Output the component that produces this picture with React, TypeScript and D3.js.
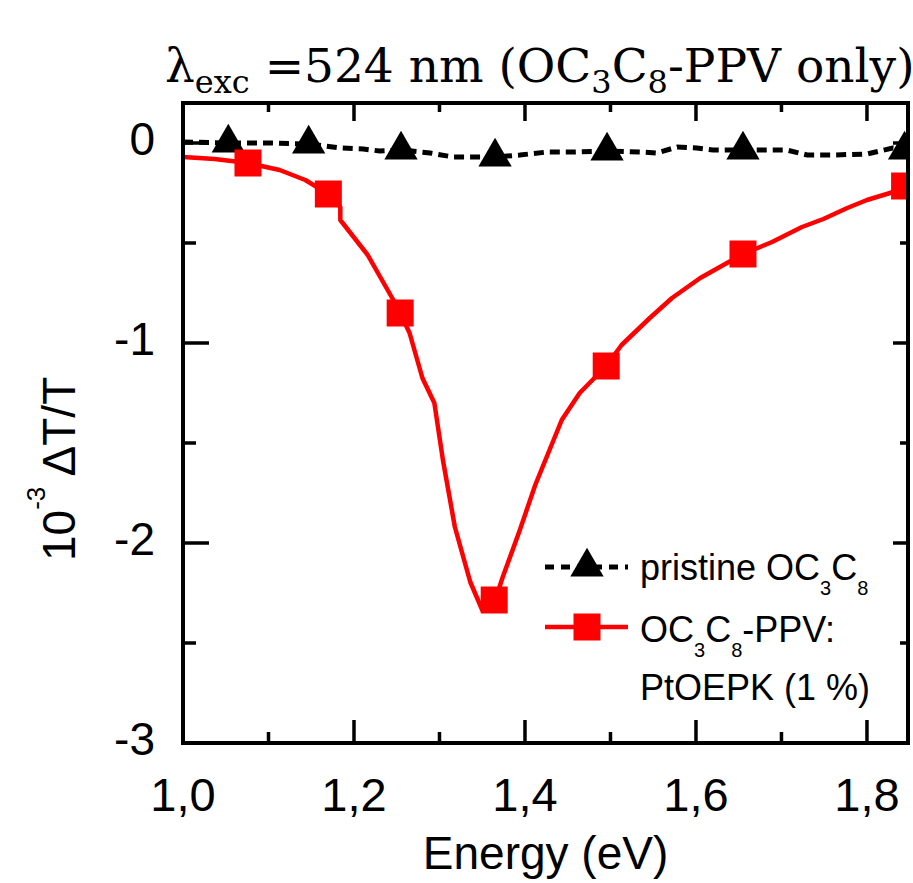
import React from "react";
import * as d3 from "d3";

// ---------- data ----------
const pristineLineE = [1.0, 1.053, 1.102, 1.147, 1.184, 1.211, 1.23, 1.255, 1.289, 1.316, 1.336, 1.365, 1.394, 1.426, 1.456, 1.496, 1.535, 1.554, 1.578, 1.601, 1.62, 1.655, 1.706, 1.73, 1.76, 1.8, 1.83, 1.85];
const pristineLineV = [0.005, 0.0, 0.0, -0.005, -0.025, -0.03, -0.04, -0.035, -0.05, -0.07, -0.07, -0.07, -0.06, -0.045, -0.045, -0.04, -0.045, -0.05, -0.02, -0.025, -0.035, -0.035, -0.035, -0.06, -0.06, -0.055, -0.025, -0.035];
const pristineMarkE = [1.053, 1.147, 1.255, 1.365, 1.496, 1.655, 1.844];
const pristineMarkV = [0.0, -0.005, -0.035, -0.07, -0.04, -0.035, -0.035];

const dopedLineE = [1.0, 1.037, 1.076, 1.113, 1.143, 1.17, 1.184, 1.184, 1.216, 1.246, 1.254, 1.265, 1.28, 1.294, 1.304, 1.318, 1.336, 1.35, 1.364, 1.374, 1.394, 1.412, 1.443, 1.464, 1.495, 1.513, 1.546, 1.572, 1.605, 1.655, 1.689, 1.724, 1.749, 1.777, 1.8, 1.827, 1.844, 1.85];
const dopedLineV = [-0.07, -0.08, -0.1, -0.135, -0.185, -0.255, -0.32, -0.385, -0.56, -0.785, -0.85, -0.95, -1.175, -1.3, -1.585, -1.92, -2.195, -2.335, -2.3, -2.17, -1.935, -1.71, -1.385, -1.25, -1.115, -1.01, -0.875, -0.775, -0.675, -0.555, -0.495, -0.42, -0.38, -0.325, -0.285, -0.25, -0.215, -0.2];
const dopedMarkE = [1.076, 1.17, 1.254, 1.364, 1.495, 1.655, 1.844];
const dopedMarkV = [-0.1, -0.255, -0.85, -2.285, -1.115, -0.555, -0.215];

const xMajorTicks = [1.0, 1.2, 1.4, 1.6, 1.8];
const xTickLabels = ["1,0", "1,2", "1,4", "1,6", "1,8"];
const xMinorTicks = [1.1, 1.3, 1.5, 1.7];
const yMajorTicks = [0, -1, -2, -3];
const yTickLabels = ["0", "-1", "-2", "-3"];
const yMinorTicks = [-0.5, -1.5, -2.5];

// ---------- layout ----------
const W = 913, H = 883;
const L = 183, R = 908, T = 103, B = 743;
const SANS = "'Liberation Sans', Arial, sans-serif";
const SERIF = "'DejaVu Serif', serif";

export default function App() {
  const x = d3.scaleLinear().domain([1.0, 1.848]).range([L, R]);
  const y = d3.scaleLinear().domain([-3, 0.2]).range([B, T]);
  const line = d3.line<[number, number]>().x(d => x(d[0])).y(d => y(d[1]));
  const pristine = pristineLineE.map((e, i) => [e, pristineLineV[i]] as [number, number]);
  const doped = dopedLineE.map((e, i) => [e, dopedLineV[i]] as [number, number]);
  const tri = d3.symbol().type(d3.symbolTriangle).size(480)()!;
  const sq = d3.symbol().type(d3.symbolSquare).size(729)()!;

  return (
    <svg width={W} height={H} style={{ position: "absolute", left: 0, top: 0, background: "#fff" }}>
      <defs>
        <clipPath id="plot">
          <rect x={L} y={T} width={R - L} height={B - T} />
        </clipPath>
      </defs>
      {/* title */}
      <text x={165} y={82} fontFamily={SERIF} fontSize={47} fill="#000">
        <tspan>λ</tspan>
        <tspan fontSize={32} dy={11}>exc</tspan>
        <tspan dy={-11}> =524 nm (OC</tspan>
        <tspan fontSize={32} dy={11}>3</tspan>
        <tspan dy={-11}>C</tspan>
        <tspan fontSize={32} dy={11}>8</tspan>
        <tspan dy={-11}>-PPV only)</tspan>
      </text>

      {/* data */}
      <g clipPath="url(#plot)">
        <path d={line(pristine)!} fill="none" stroke="#000" strokeWidth={5} strokeDasharray="10,6" />
        <path d={line(doped)!} fill="none" stroke="#ff0000" strokeWidth={4.5} strokeLinejoin="round" />
        {pristineMarkE.map((e, i) => (
          <path key={"t" + i} d={tri} transform={`translate(${x(e)},${y(pristineMarkV[i])})`} fill="#000" />
        ))}
        {dopedMarkE.map((e, i) => (
          <path key={"s" + i} d={sq} transform={`translate(${x(e)},${y(dopedMarkV[i])})`} fill="#ff0000" />
        ))}
      </g>

      {/* ticks */}
      <g stroke="#000" strokeWidth={3.5}>
        {xMajorTicks.map((t, i) => (
          <g key={"xm" + i}>
            <line x1={x(t)} x2={x(t)} y1={B} y2={B - 23} />
            <line x1={x(t)} x2={x(t)} y1={T} y2={T + 18} />
          </g>
        ))}
        {xMinorTicks.map((t, i) => (
          <g key={"xn" + i}>
            <line x1={x(t)} x2={x(t)} y1={B} y2={B - 11} />
            <line x1={x(t)} x2={x(t)} y1={T} y2={T + 9} />
          </g>
        ))}
        {yMajorTicks.map((t, i) => (
          <g key={"ym" + i}>
            <line x1={L} x2={L + 26} y1={y(t)} y2={y(t)} />
            <line x1={R} x2={R - 15} y1={y(t)} y2={y(t)} />
          </g>
        ))}
        {yMinorTicks.map((t, i) => (
          <g key={"yn" + i}>
            <line x1={L} x2={L + 13} y1={y(t)} y2={y(t)} />
            <line x1={R} x2={R - 8} y1={y(t)} y2={y(t)} />
          </g>
        ))}
      </g>
      <rect x={L} y={T} width={R - L} height={B - T} fill="none" stroke="#000" strokeWidth={4} />

      {/* tick labels */}
      {xMajorTicks.map((t, i) => (
        <text key={"xl" + i} x={x(t)} y={811} textAnchor="middle" fontFamily={SANS} fontSize={47}>{xTickLabels[i]}</text>
      ))}
      {yMajorTicks.map((t, i) => (
        <text key={"yl" + i} x={155} y={y(t) + 12} textAnchor="end" fontFamily={SANS} fontSize={46}>{yTickLabels[i]}</text>
      ))}

      {/* axis titles */}
      <text x={(L + R) / 2} y={869} textAnchor="middle" fontFamily={SANS} fontSize={46}>Energy (eV)</text>
      <text transform="translate(75,561) rotate(-90)" fontFamily={SANS} fontSize={46}>
        10<tspan fontSize={26} dy={-30}>-3</tspan><tspan dy={30}> ΔT/T</tspan>
      </text>

      {/* legend */}
      <g>
        <line x1={545} x2={628} y1={567} y2={567} stroke="#000" strokeWidth={5} strokeDasharray="9,7" />
        <path d={tri} transform="translate(587,567)" fill="#000" />
        <text x={640} y={580} fontFamily={SANS} fontSize={36}>
          pristine OC<tspan fontSize={20} dy={15}>3</tspan><tspan dy={-15}>C</tspan><tspan fontSize={20} dy={15}>8</tspan>
        </text>
        <line x1={545} x2={628} y1={627} y2={627} stroke="#ff0000" strokeWidth={4.5} />
        <path d={sq} transform="translate(587,627)" fill="#ff0000" />
        <text x={640} y={642} fontFamily={SANS} fontSize={36}>
          OC<tspan fontSize={20} dy={15}>3</tspan><tspan dy={-15}>C</tspan><tspan fontSize={20} dy={15}>8</tspan><tspan dy={-15}>-PPV:</tspan>
        </text>
        <text x={640} y={700} fontFamily={SANS} fontSize={36}>PtOEPK (1 %)</text>
      </g>
    </svg>
  );
}
